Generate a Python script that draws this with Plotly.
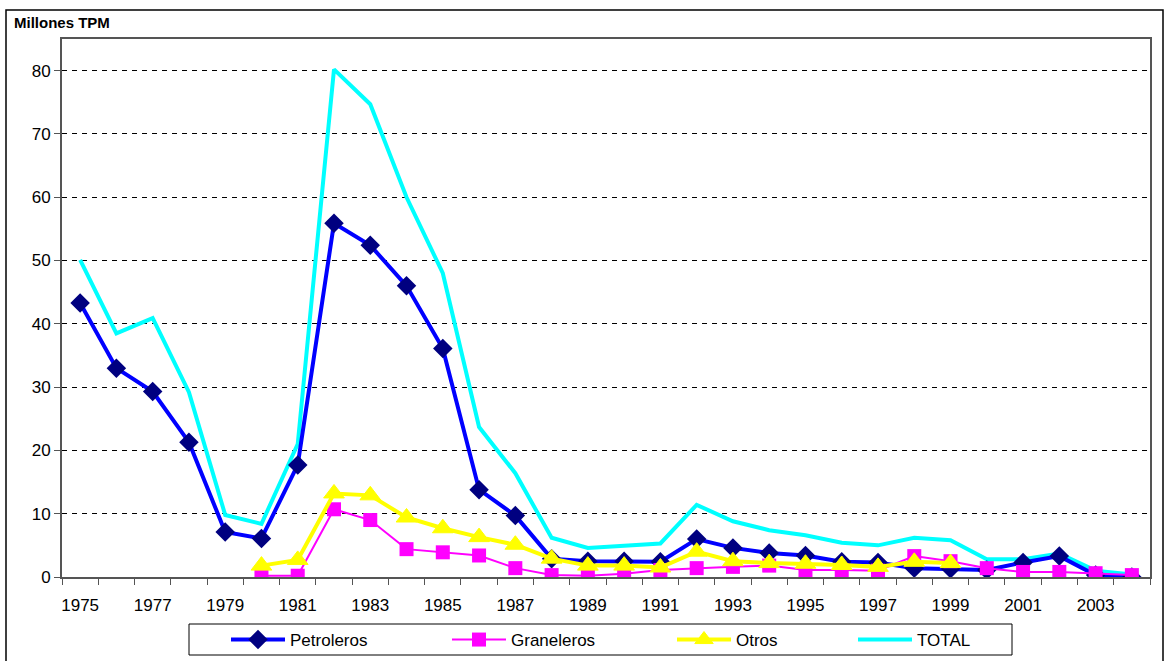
import plotly.graph_objects as go

years = list(range(1975, 2005))

petroleros = [43.3, 33.0, 29.3, 21.3, 7.1, 6.1, 17.7, 55.9, 52.4, 46.0,
              36.1, 13.8, 9.7, 2.9, 2.5, 2.5, 2.4, 6.0, 4.6, 3.8,
              3.4, 2.4, 2.3, 1.4, 1.3, 1.1, 2.3, 3.3, 0.3, 0.0]

graneleros = [None, None, None, None, None, 0.2, 0.2, 10.7, 9.0, 4.4,
              3.9, 3.4, 1.4, 0.3, 0.2, 0.5, 1.1, 1.4, 1.6, 1.8,
              1.1, 1.1, 1.0, 3.3, 2.5, 1.4, 0.8, 0.8, 0.6, 0.3]

otros = [None, None, None, None, None, 1.8, 2.7, 13.2, 12.9, 9.4,
         7.7, 6.3, 5.1, 2.9, 1.8, 1.8, 1.5, 4.0, 2.5, 2.2,
         2.1, 1.9, 1.6, 2.4, 2.2, None, None, None, None, None]

total = [50.1, 38.5, 40.9, 29.2, 9.8, 8.4, 21.0, 80.2, 74.7, 60.0,
         48.0, 23.7, 16.4, 6.2, 4.6, 5.0, 5.3, 11.4, 8.8, 7.4,
         6.6, 5.4, 5.0, 6.2, 5.8, 2.8, 2.8, 3.7, 1.0, 0.4]

label_years = list(range(1975, 2004, 2))
y_ticks = list(range(0, 81, 10))

FONT = "Liberation Sans, Arial, sans-serif"

W, H = 1164, 661
L, R, T, B = 62, 14, 39, 84
pw = W - L - R
ph = H - T - B


def px_x(p):
    return (p - L) / pw


def px_y(p):
    return (H - B - p) / ph


def cx(p):
    return p / W


def cy(p):
    return 1 - p / H


fig = go.Figure()

fig.add_trace(go.Scatter(
    x=years, y=total, name="TOTAL", mode="lines",
    line=dict(color="#00FFFF", width=4), legend="legend4"))
fig.add_trace(go.Scatter(
    x=years, y=petroleros, name="Petroleros", mode="lines+markers",
    line=dict(color="#0000FF", width=4),
    marker=dict(symbol="diamond", size=15, color="#000080",
                line=dict(color="#000080", width=0)),
    legend="legend"))
fig.add_trace(go.Scatter(
    x=years, y=graneleros, name="Graneleros", mode="lines+markers",
    line=dict(color="#FF00FF", width=2),
    marker=dict(symbol="square", size=14, color="#FF00FF",
                line=dict(width=0)),
    legend="legend2"))
fig.add_trace(go.Scatter(
    x=years, y=otros, name="Otros", mode="lines+markers",
    line=dict(color="#FFFF00", width=4),
    marker=dict(symbol="triangle-up", size=18, color="#FFFF00",
                line=dict(color="#FFFF00", width=1)),
    legend="legend3"))

leg_common = dict(
    orientation="h", xanchor="left", xref="container", yref="container",
    y=cy(640), yanchor="middle",
    bgcolor="rgba(0,0,0,0)", borderwidth=0,
    font=dict(family=FONT, size=17, color="black"),
    itemwidth=54,
)

fig.update_layout(
    width=W, height=H,
    margin=dict(l=L, r=R, t=T, b=B, autoexpand=False),
    paper_bgcolor="white", plot_bgcolor="white",
    font=dict(family=FONT, size=17, color="black"),
    showlegend=True,
    legend=dict(x=cx(226), **leg_common),
    legend2=dict(x=cx(447), **leg_common),
    legend3=dict(x=cx(672), **leg_common),
    legend4=dict(x=cx(853), **leg_common),
    xaxis=dict(
        type="linear", range=[1974.5, 2004.5], automargin=False,
        tickvals=label_years, ticktext=[str(y) for y in label_years],
        ticks="", showgrid=False, zeroline=False,
        showline=True, linecolor="#555555", linewidth=2, mirror=True,
        ticklabelstandoff=12,
        tickfont=dict(family=FONT, size=17, color="black"),
        minor=dict(tickvals=[y + 0.5 for y in range(1974, 2005)],
                   ticks="outside", ticklen=6, tickcolor="#555555",
                   tickwidth=1, showgrid=False),
    ),
    yaxis=dict(
        range=[0, 85], tickvals=y_ticks, automargin=False,
        ticks="outside", ticklen=6, tickcolor="#555555",
        showgrid=True, gridcolor="black", gridwidth=1, griddash="5px,5px",
        zeroline=False,
        showline=True, linecolor="#555555", linewidth=2, mirror=True,
        tickfont=dict(family=FONT, size=17, color="black"),
    ),
    shapes=[
        dict(type="rect", xref="paper", yref="paper",
             x0=px_x(6), x1=px_x(1163), y0=px_y(668), y1=px_y(10),
             line=dict(color="black", width=1.5),
             fillcolor="rgba(0,0,0,0)", layer="below"),
        dict(type="rect", xref="paper", yref="paper",
             x0=px_x(189), x1=px_x(1012), y0=px_y(655), y1=px_y(624),
             line=dict(color="black", width=1),
             fillcolor="rgba(0,0,0,0)", layer="below"),
    ],
    annotations=[dict(
        text="<b>Millones TPM</b>", xref="paper", yref="paper",
        x=px_x(12), y=px_y(23), xanchor="left", yanchor="middle",
        showarrow=False, font=dict(family=FONT, size=15, color="black"))],
)

fig.write_html("out.html",
               config={"displayModeBar": False},
               post_script="document.body.style.margin='0';"
                           "document.body.style.padding='0';")
